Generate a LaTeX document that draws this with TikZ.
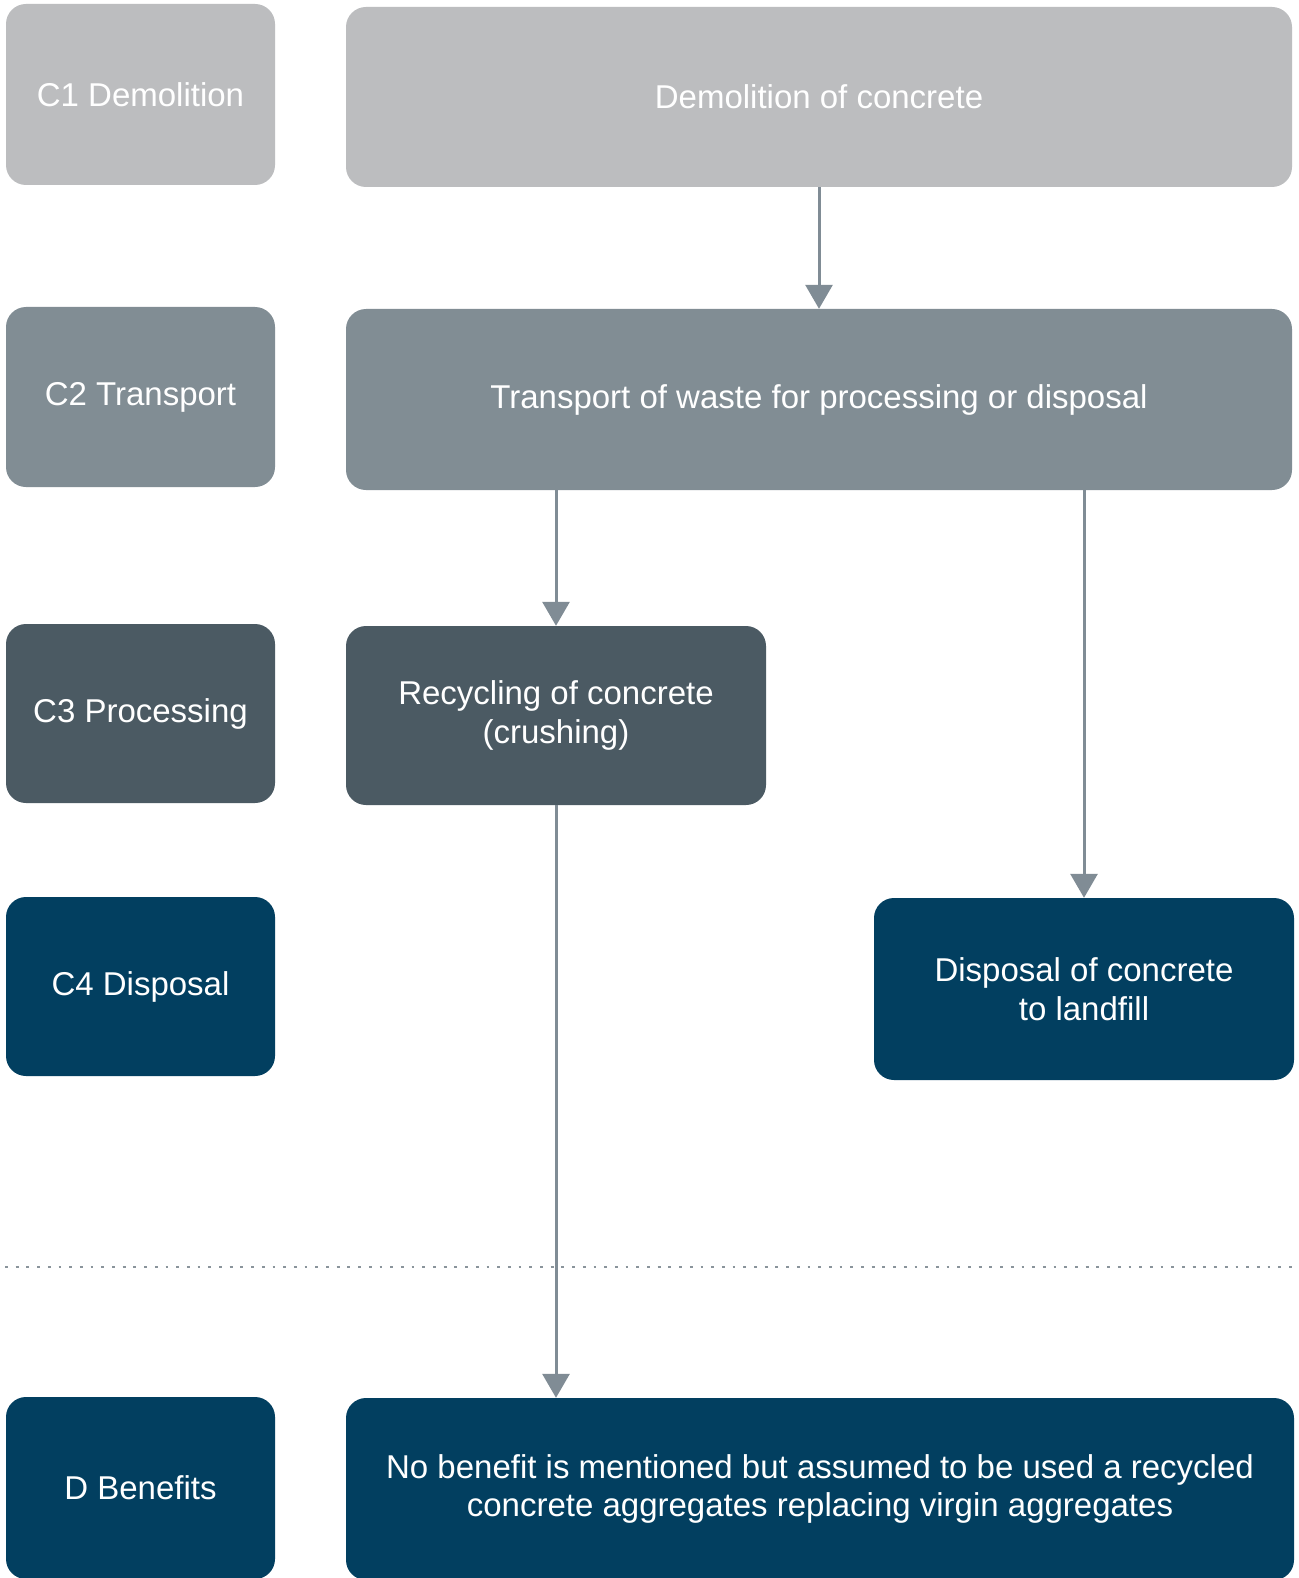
\documentclass[tikz,border=0pt]{standalone}
\usepackage{fontspec}
\setmainfont{Liberation Sans}
\usetikzlibrary{arrows.meta,calc}
\definecolor{cone}{HTML}{BCBDBF}
\definecolor{ctwo}{HTML}{818D94}
\definecolor{cthree}{HTML}{4B5A63}
\definecolor{cfour}{HTML}{023F60}
\definecolor{arr}{HTML}{808C95}
\definecolor{dotc}{HTML}{8A949B}
\tikzset{
  box/.style={rectangle, rounded corners=20pt, inner sep=0pt, text=white,
    align=center, font=\fontsize{33}{38.5}\selectfont},
  lbox/.style={box, minimum width=269pt},
  flow/.style={draw=arr, line width=3pt, -{Triangle[width=27pt,length=24pt]}},
}
\begin{document}
\begin{tikzpicture}[x=1pt,y=-1pt]
\useasboundingbox[fill=white] (0,0) rectangle (1298,1578);
% left column
\node[lbox, fill=cone, minimum height=181pt] (C1L) at (140.5,94.5) {C1 Demolition};
\node[lbox, fill=ctwo, minimum height=180pt] (C2L) at (140.5,397) {C2 Transport};
\node[lbox, fill=cthree, minimum height=179pt] (C3L) at (140.5,713.5) {C3 Processing};
\node[lbox, fill=cfour, minimum height=179pt] (C4L) at (140.5,986.5) {C4 Disposal};
\node[lbox, fill=cfour, minimum height=182pt] (DL) at (140.5,1488) {D Benefits};
% right column
\node[box, fill=cone, minimum width=946pt, minimum height=180pt] (C1R) at (819,97) {Demolition of concrete};
\node[box, fill=ctwo, minimum width=946pt, minimum height=181pt] (C2R) at (819,399.5) {Transport of waste for processing or disposal};
\node[box, fill=cthree, minimum width=420pt, minimum height=179pt] (C3R) at (556,715.5) {Recycling of concrete\\(crushing)};
\node[box, fill=cfour, minimum width=420pt, minimum height=182pt] (C4R) at (1084,989) {Disposal of concrete\\to landfill};
\node[box, fill=cfour, minimum width=948pt, minimum height=182pt] (DR) at (820,1489) {No benefit is mentioned but assumed to be used a recycled\\concrete aggregates replacing virgin aggregates};
% dotted separator
\coordinate (sepL) at (5,1267);
\coordinate (sepR) at (1295,1267);
\draw[dotc, line width=2.8pt, dash pattern=on 2.8pt off 7.9pt] (sepL) -- (sepR);
% connectors
\draw[flow] (C1R.south) -- (C2R.north);
\draw[flow] (C3R.north |- C2R.south) -- (C3R.north);
\draw[flow] (C4R.north |- C2R.south) -- (C4R.north);
\draw[flow] (C3R.south) -- (C3R.south |- DR.north);
\end{tikzpicture}
\end{document}
